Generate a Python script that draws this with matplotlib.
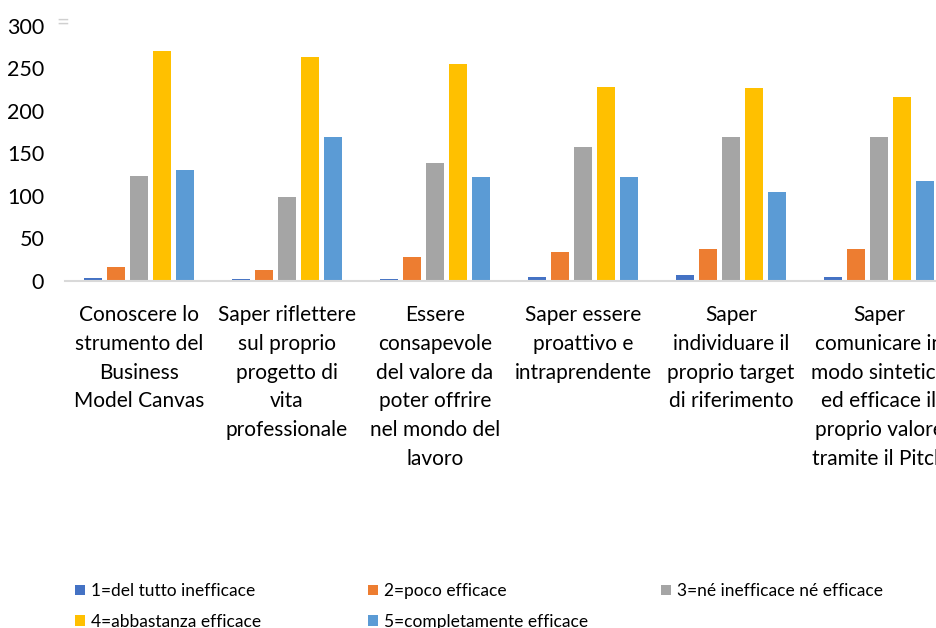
import matplotlib.pyplot as plt
import numpy as np

plt.rcParams['font.family'] = ['Lato', 'DejaVu Sans']

categories = [
    "Conoscere lo\nstrumento del\nBusiness\nModel Canvas",
    "Saper riflettere\nsul proprio\nprogetto di\nvita\nprofessionale",
    "Essere\nconsapevole\ndel valore da\npoter offrire\nnel mondo del\nlavoro",
    "Saper essere\nproattivo e\nintraprendente",
    "Saper\nindividuare il\nproprio target\ndi riferimento",
    "Saper\ncomunicare in\nmodo sintetico\ned efficace il\nproprio valore\ntramite il Pitch",
]
series_names = [
    "1=del tutto inefficace",
    "2=poco efficace",
    "3=né inefficace né efficace",
    "4=abbastanza efficace",
    "5=completamente efficace",
]
del_tutto_inefficace = [3, 2, 2, 5, 7, 5]
poco_efficace = [16, 13, 28, 34, 38, 38]
ne_ne = [123, 99, 139, 158, 169, 169]
abbastanza_efficace = [270, 263, 255, 228, 227, 216]
completamente_efficace = [130, 169, 122, 122, 105, 118]
values = [del_tutto_inefficace, poco_efficace, ne_ne,
          abbastanza_efficace, completamente_efficace]
colors = ["#4472C4", "#ED7D31", "#A5A5A5", "#FFC000", "#5B9BD5"]

fig = plt.figure(figsize=(9.36, 6.28), dpi=100)
ax = fig.add_axes([65 / 936, 1 - 281 / 628, 888 / 936, 255 / 628])

x = np.arange(len(categories))
step = 23 / 148
width = 18 / 148
bars = []
for i, (vals, col) in enumerate(zip(values, colors)):
    b = ax.bar(x + (i - 2) * step, vals, width, color=col, label=series_names[i], zorder=2)
    bars.append(b)

ax.set_xlim(-0.5, len(categories) - 0.5)
ax.set_ylim(0, 300)
ax.set_yticks(range(0, 301, 50))
ax.set_xticks(x)
ax.set_xticklabels(categories, fontsize=15, linespacing=1.56, va='top')
ax.tick_params(axis='x', length=0, pad=17)
ax.tick_params(axis='y', length=0, pad=15, labelsize=15.5)
for s in ['top', 'right', 'left']:
    ax.spines[s].set_visible(False)
ax.spines['bottom'].set_color('#d9d9d9')
ax.spines['bottom'].set_linewidth(1.5)

fig.text(56 / 936, 1 - 23 / 628, "=", color="#d0d0d0", fontsize=16, va='center')

# legend: three columns with equal spacing, filled row by row (Excel style)
handles = [b[0] for b in bars]
col_x = [75, 368, 661]
columns = [[0, 3], [1, 4], [2]]
for cx, idx in zip(col_x, columns):
    leg = fig.legend([handles[k] for k in idx], [series_names[k] for k in idx],
                     loc='upper left', bbox_to_anchor=(cx / 936, 1 - 583 / 628),
                     frameon=False, fontsize=12.5, handlelength=0.55,
                     handleheight=0.55, handletextpad=0.35, labelspacing=0.85,
                     borderpad=0, borderaxespad=0)

fig.savefig('out.png', dpi=100)
